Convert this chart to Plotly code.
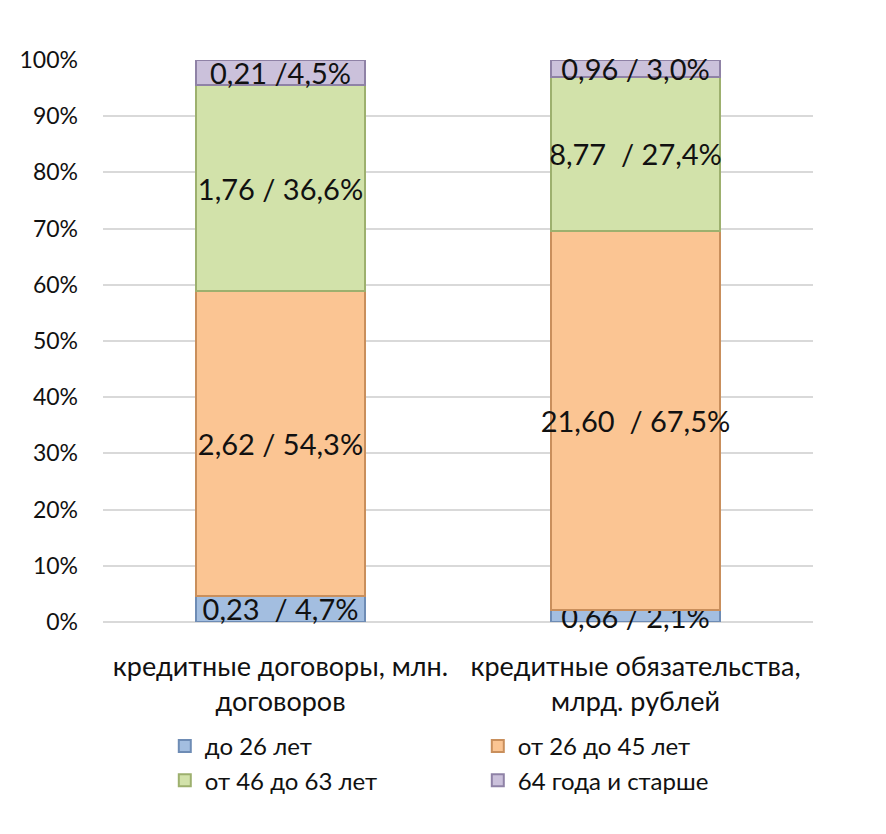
import plotly.graph_objects as go

categories = ["кредитные договоры, млн.<br>договоров", "кредитные обязательства,<br>млрд. рублей"]
series_names = ["до 26 лет", "от 26 до 45 лет", "от 46 до 63 лет", "64 года и старше"]
shares = [
    [4.7, 2.1],
    [54.3, 67.5],
    [36.6, 27.4],
    [4.5, 3.0],
]
labels = [
    ["0,23  / 4,7%", "0,66 / 2,1%"],
    ["2,62 / 54,3%", "21,60  / 67,5%"],
    ["1,76 / 36,6%", "8,77  / 27,4%"],
    ["0,21 /4,5%", "0,96 / 3,0%"],
]
y_ticks = [0, 10, 20, 30, 40, 50, 60, 70, 80, 90, 100]
y_ticklabels = [f"{v}%" for v in y_ticks]

fills = ["#A3BEE0", "#FBC593", "#D2E2AA", "#CBC1DB"]
edges = ["#6E8CB5", "#C98F5C", "#9DB06E", "#8F82A6"]

FONT = "Lato"

fig = go.Figure()
for name, vals, txt, fc, ec in zip(series_names, shares, labels, fills, edges):
    fig.add_trace(go.Bar(
        x=categories,
        y=vals,
        name=name,
        text=txt,
        textposition="inside",
        insidetextanchor="middle",
        textangle=0,
        textfont=dict(size=29, color="#111111", family=FONT),
        marker=dict(color=fc, line=dict(color=ec, width=2)),
        cliponaxis=False,
        width=0.476,
    ))

fig.update_layout(
    barmode="stack",
    barnorm="percent",
    width=886, height=834,
    margin=dict(l=103, r=73, t=60, b=212, autoexpand=False),
    paper_bgcolor="white",
    plot_bgcolor="white",
    font=dict(family=FONT, color="#111111"),
    uniformtext=dict(minsize=29, mode="show"),
    showlegend=True,
    legend=dict(
        orientation="h",
        xref="container", yref="container",
        x=0.186, xanchor="left",
        y=0.132, yanchor="top",
        entrywidth=268,
        font=dict(size=24, color="#111111", family=FONT),
        traceorder="normal",
    ),
    xaxis=dict(
        tickfont=dict(size=27, color="#111111", family=FONT),
        showline=False,
        ticks="",
        ticklabelstandoff=26,
        automargin=False,
    ),
    yaxis=dict(
        range=[0, 100],
        tickvals=y_ticks,
        ticktext=y_ticklabels,
        tickfont=dict(size=23, color="#111111", family=FONT),
        showgrid=True,
        gridcolor="#D9D9D9",
        gridwidth=2,
        zeroline=True,
        zerolinecolor="#D9D9D9",
        zerolinewidth=2,
        ticks="",
        ticklabelstandoff=24,
        automargin=False,
    ),
)

fig.write_html("out.html")
